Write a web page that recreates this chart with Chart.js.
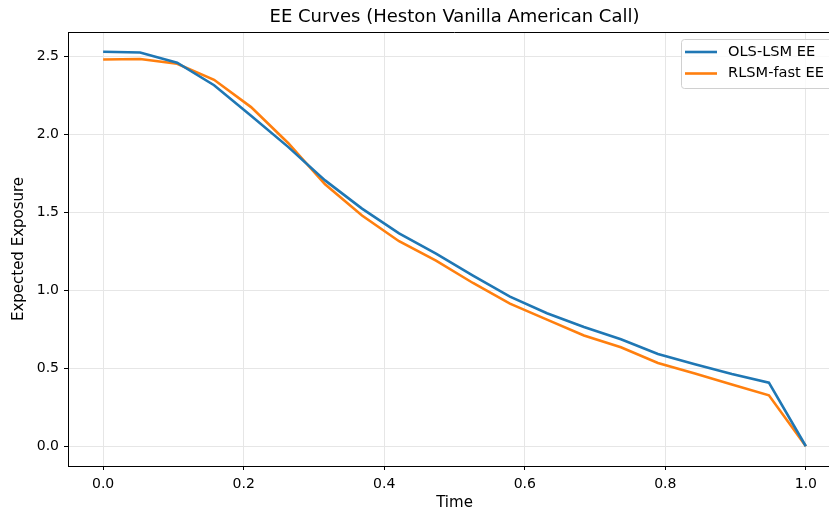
<!DOCTYPE html>
<html>
<head>
<meta charset="utf-8">
<script src="https://cdn.jsdelivr.net/npm/chart.js@4/dist/chart.umd.min.js"></script>
<style>
  html, body { margin: 0; padding: 0; background: #fff; overflow: hidden; }
  #wrap { width: 845px; height: 513px; position: relative; }
</style>
</head>
<body>
<div id="wrap"><canvas id="ee"></canvas></div>
<script>
// Exercise dates on [0, 1] (20 time steps)
const times = [0, 0.0526, 0.1053, 0.1579, 0.2105, 0.2632, 0.3158, 0.3684, 0.4211, 0.4737,
               0.5263, 0.5789, 0.6316, 0.6842, 0.7368, 0.7895, 0.8421, 0.8947, 0.9474, 1.0];

// Expected exposure per method
const olsLsmEE = [2.530, 2.525, 2.460, 2.315, 2.120, 1.920, 1.705, 1.524, 1.365, 1.235,
                  1.095, 0.960, 0.853, 0.765, 0.686, 0.592, 0.526, 0.463, 0.408, 0.0];
const rlsmFastEE = [2.480, 2.483, 2.453, 2.350, 2.175, 1.945, 1.680, 1.480, 1.315, 1.190,
                    1.047, 0.915, 0.812, 0.710, 0.635, 0.534, 0.466, 0.396, 0.327, 0.0];

const seriesLabels = ['OLS-LSM EE', 'RLSM-fast EE'];
const xTicks = [0.0, 0.2, 0.4, 0.6, 0.8, 1.0];
const yTicks = [0.0, 0.5, 1.0, 1.5, 2.0, 2.5];

const titleText = 'EE Curves (Heston Vanilla American Call)';
const xTitle = 'Time';
const yTitle = 'Expected Exposure';

const FONT = "'DejaVu Sans', sans-serif";
const C_BLUE = '#1f77b4';
const C_ORANGE = '#ff7f0e';
const GRID = '#e6e6e6';

const toPoints = (ys) => times.map((t, i) => ({ x: t, y: ys[i] }));

// Title centred over the plot area, plus the top spine
const framePlugin = {
  id: 'frame',
  afterDraw(chart) {
    const { ctx, chartArea: a } = chart;
    ctx.save();
    ctx.strokeStyle = '#000';
    ctx.lineWidth = 1;
    ctx.beginPath();
    ctx.moveTo(a.left, a.top + 0.5);
    ctx.lineTo(a.right, a.top + 0.5);
    ctx.moveTo(a.right - 0.5, a.top);
    ctx.lineTo(a.right - 0.5, a.bottom);
    ctx.stroke();
    ctx.fillStyle = '#000';
    ctx.font = '18px ' + FONT;
    ctx.textAlign = 'center';
    ctx.textBaseline = 'middle';
    ctx.fillText(titleText, (a.left + a.right) / 2, 17);
    ctx.restore();
  }
};

// Framed legend in the upper right corner of the plot area
const legendBoxPlugin = {
  id: 'legendBox',
  afterDraw(chart) {
    const { ctx } = chart;
    const x0 = 681, y0 = 39, w = 155, h = 49;
    ctx.save();
    ctx.beginPath();
    ctx.roundRect(x0 + 0.5, y0 + 0.5, w, h, 3);
    ctx.fillStyle = 'rgba(255,255,255,0.8)';
    ctx.fill();
    ctx.strokeStyle = '#d0d0d0';
    ctx.lineWidth = 1;
    ctx.stroke();
    ctx.font = '14.6px ' + FONT;
    ctx.textBaseline = 'middle';
    ctx.textAlign = 'left';
    chart.data.datasets.forEach((ds, i) => {
      const yy = 52 + i * 21.5;
      ctx.strokeStyle = ds.borderColor;
      ctx.lineWidth = ds.borderWidth;
      ctx.beginPath();
      ctx.moveTo(685, yy);
      ctx.lineTo(717, yy);
      ctx.stroke();
      ctx.fillStyle = '#000';
      ctx.fillText(ds.label, 728, yy);
    });
    ctx.restore();
  }
};

new Chart(document.getElementById('ee'), {
  type: 'line',
  data: {
    datasets: [
      { label: seriesLabels[0], data: toPoints(olsLsmEE), borderColor: C_BLUE, backgroundColor: C_BLUE,
        borderWidth: 2.6, pointRadius: 0, tension: 0, fill: false },
      { label: seriesLabels[1], data: toPoints(rlsmFastEE), borderColor: C_ORANGE, backgroundColor: C_ORANGE,
        borderWidth: 2.6, pointRadius: 0, tension: 0, fill: false }
    ]
  },
  options: {
    responsive: true,
    maintainAspectRatio: false,
    animation: false,
    events: [],
    layout: { padding: { top: 32, right: 4, bottom: 0, left: 0 } },
    plugins: {
      legend: { display: false },
      title: { display: false },
      tooltip: { enabled: false }
    },
    scales: {
      x: {
        type: 'linear',
        min: -0.05,
        max: 1.05,
        afterBuildTicks: (s) => { s.ticks = xTicks.map(v => ({ value: v })); },
        afterFit: (s) => { s.height = 47; },
        grid: { color: GRID, lineWidth: 1, tickLength: 4, tickColor: '#000', drawTicks: true },
        border: { display: true, color: '#000', width: 1 },
        ticks: { color: '#000', font: { family: FONT, size: 14 }, padding: 6,
                 maxRotation: 0, callback: (v) => v.toFixed(1) },
        title: { display: true, text: xTitle, color: '#000', font: { family: FONT, size: 15 },
                 padding: { top: 0, bottom: 1 } }
      },
      y: {
        type: 'linear',
        min: -0.1265,
        max: 2.6565,
        afterBuildTicks: (s) => { s.ticks = yTicks.map(v => ({ value: v })); },
        afterFit: (s) => { s.width = 68; },
        grid: { color: GRID, lineWidth: 1, tickLength: 4, tickColor: '#000', drawTicks: true },
        border: { display: true, color: '#000', width: 1 },
        ticks: { color: '#000', font: { family: FONT, size: 14 }, padding: 5,
                 callback: (v) => v.toFixed(1) },
        title: { display: true, text: yTitle, color: '#000', font: { family: FONT, size: 15 },
                 padding: { top: 10, bottom: 0 } }
      }
    }
  },
  plugins: [framePlugin, legendBoxPlugin]
});
</script>
</body>
</html>
